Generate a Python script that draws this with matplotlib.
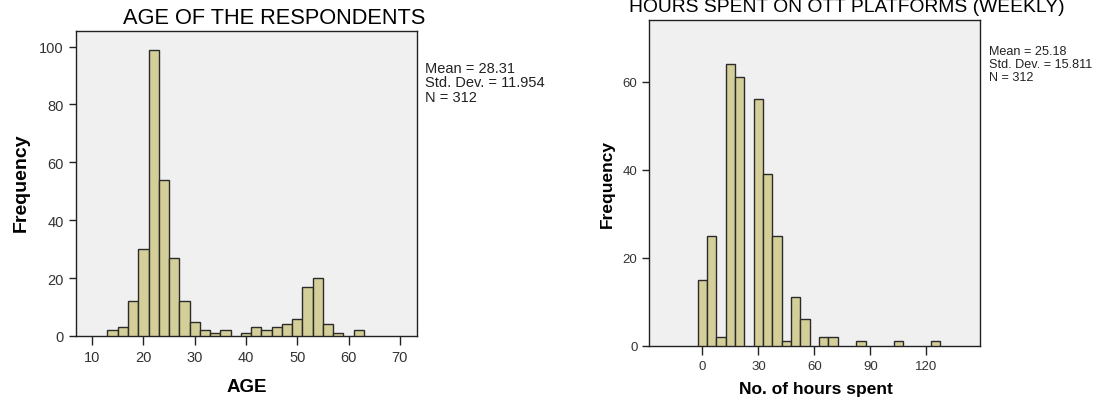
import matplotlib
matplotlib.use("Agg")
import matplotlib.pyplot as plt

plt.rcParams['font.family'] = ['Liberation Sans', 'DejaVu Sans']

#%% Data
# Age histogram: bins of width 2 starting at 13
age_start = 13
age_width = 2
age_counts = [2, 3, 12, 30, 99, 54, 27, 12, 5, 2, 1, 2, 0,
              1, 3, 2, 3, 4, 6, 17, 20, 4, 1, 0, 2]
age_stats = ["Mean = 28.31", "Std. Dev. = 11.954", "N = 312"]

# Hours histogram: bins of width 5 starting at -2.5
hours_start = -2.5
hours_width = 5
hours_counts = [15, 25, 2, 64, 61, 0, 56, 39, 25, 1, 11, 6, 0,
                2, 2, 0, 0, 1, 0, 0, 0, 1, 0, 0, 0, 1]
hours_stats = ["Mean = 25.18", "Std. Dev. = 15.811", "N = 312"]

bar_color = '#D4CF98'
edge_color = '#2b2b2b'
bg_color = '#F0F0F0'
text_color = '#222222'


#%% Functions
def draw_hist(ax, start, width, counts):
    lefts = [start + i * width for i, c in enumerate(counts) if c > 0]
    heights = [c for c in counts if c > 0]
    ax.bar(lefts, heights, width=width, align='edge', color=bar_color,
           edgecolor=edge_color, linewidth=1.0, zorder=3)
    ax.set_facecolor(bg_color)
    for sp in ax.spines.values():
        sp.set_color('#222222')
        sp.set_linewidth(1.0)
    ax.tick_params(direction='out', width=1, color='#222222',
                   labelcolor='#333333')
    ax.tick_params(axis='x', length=6.5)
    ax.tick_params(axis='y', length=5)


#%% Figure
fig = plt.figure(figsize=(11, 4.02), dpi=100)

# Left: age
ax1 = fig.add_axes([0.0689, 0.1617, 0.310, 0.758])
draw_hist(ax1, age_start, age_width, age_counts)
ax1.set_xlim(6.82, 73.3)
ax1.set_ylim(0, 105.3)
ax1.set_xticks([10, 20, 30, 40, 50, 60, 70])
ax1.set_yticks([0, 20, 40, 60, 80, 100])
ax1.tick_params(labelsize=10.5)
fig.text(0.2496, 0.955, 'AGE OF THE RESPONDENTS', ha='center', va='center',
         fontsize=15.7, color='black')
fig.text(0.019, 0.545, 'Frequency', rotation=90, ha='center', va='center',
         fontsize=14, fontweight='bold')
fig.text(0.2243, 0.036, 'AGE', ha='center', va='center',
         fontsize=13.5, fontweight='bold')
fig.text(0.386, 0.846, '\n'.join(age_stats), ha='left', va='top',
         fontsize=10.5, color=text_color, linespacing=1.05)

# Right: hours
ax2 = fig.add_axes([0.5903, 0.1376, 0.3008, 0.811])
draw_hist(ax2, hours_start, hours_width, hours_counts)
ax2.set_xlim(-28.4, 148.8)
ax2.set_ylim(0, 74.1)
ax2.set_xticks([0, 30, 60, 90, 120])
ax2.set_yticks([0, 20, 40, 60])
ax2.tick_params(labelsize=9.5)
fig.text(0.770, 0.9806, 'HOURS SPENT ON OTT PLATFORMS (WEEKLY)', ha='center',
         va='center', fontsize=13.9, color='black')
fig.text(0.552, 0.542, 'Frequency', rotation=90, ha='center', va='center',
         fontsize=12.5, fontweight='bold')
fig.text(0.7417, 0.030, 'No. of hours spent', ha='center', va='center',
         fontsize=12.5, fontweight='bold')
fig.text(0.8987, 0.886, '\n'.join(hours_stats), ha='left', va='top',
         fontsize=9.1, color=text_color, linespacing=1.1)

fig.savefig('out.png', dpi=100, facecolor='white')
